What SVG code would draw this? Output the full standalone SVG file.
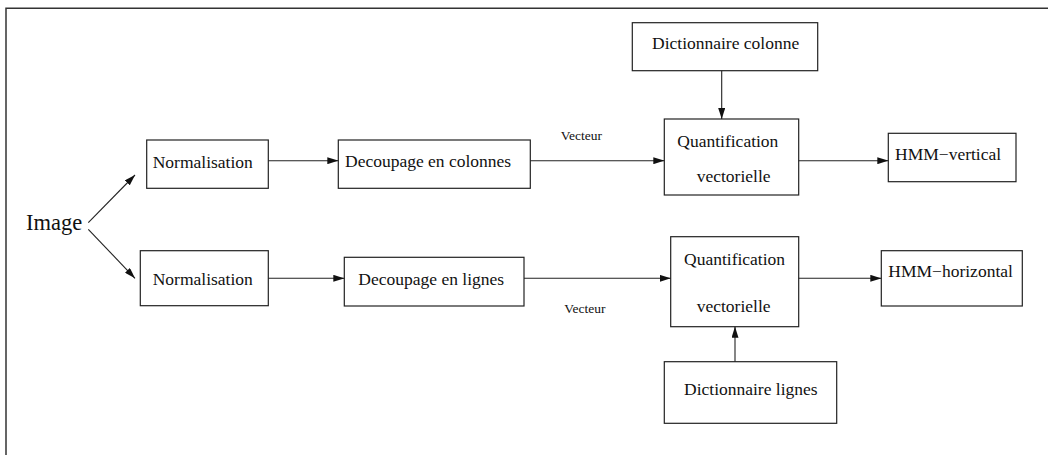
<svg xmlns="http://www.w3.org/2000/svg" width="1048" height="455" viewBox="0 0 1048 455">
  <style>
    .box { fill: #ffffff; stroke: #222222; stroke-width: 1.2; }
    .lbl { font-family: "Liberation Serif", "Times New Roman", serif; font-size: 17.5px; fill: #111111; }
    .small { font-family: "Liberation Serif", "Times New Roman", serif; font-size: 13.5px; fill: #111111; }
    .big { font-family: "Liberation Serif", "Times New Roman", serif; font-size: 22.5px; fill: #111111; }
    .edge { stroke: #222222; stroke-width: 1.1; fill: none; marker-end: url(#arrow); }
    .frame { stroke: #333333; stroke-width: 1.5; fill: none; }
  </style>
  <defs>
    <marker id="arrow" markerUnits="userSpaceOnUse" markerWidth="11" markerHeight="7" refX="11" refY="3.5" orient="auto">
      <path d="M0,0 L11,3.5 L0,7 z" fill="#111111"/>
    </marker>
  </defs>

  <rect width="1048" height="455" fill="#ffffff"/>
  <!-- page frame (top and left edges) -->
  <path class="frame" d="M6,455 L6,8.3 L1048,8.3"/>

  <g id="image">
    <text class="big" x="26" y="230">Image</text>
  </g>

  <g id="norm-top">
    <rect class="box" x="146.7" y="140" width="121.6" height="48.3"/>
    <text class="lbl" x="152.7" y="168">Normalisation</text>
  </g>
  <g id="norm-bottom">
    <rect class="box" x="140.3" y="250.7" width="128" height="55"/>
    <text class="lbl" x="152.7" y="285">Normalisation</text>
  </g>

  <g id="decoupage-colonnes">
    <rect class="box" x="338.3" y="140" width="192" height="48.3"/>
    <text class="lbl" x="345" y="166.7">Decoupage en colonnes</text>
  </g>
  <g id="decoupage-lignes">
    <rect class="box" x="344.3" y="257.3" width="179.7" height="48.7"/>
    <text class="lbl" x="358.3" y="285">Decoupage en lignes</text>
  </g>

  <g id="dict-colonne">
    <rect class="box" x="632.3" y="22.7" width="185.4" height="48"/>
    <text class="lbl" x="652" y="49.3">Dictionnaire colonne</text>
  </g>
  <g id="dict-lignes">
    <rect class="box" x="664.3" y="361.7" width="172.4" height="61.6"/>
    <text class="lbl" x="684" y="395">Dictionnaire lignes</text>
  </g>

  <g id="quant-top">
    <rect class="box" x="664.3" y="119" width="134.4" height="76"/>
    <text class="lbl" x="677.3" y="146.7">Quantification</text>
    <text class="lbl" x="696.7" y="181.7">vectorielle</text>
  </g>
  <g id="quant-bottom">
    <rect class="box" x="670.7" y="236.7" width="128" height="90"/>
    <text class="lbl" x="684" y="265">Quantification</text>
    <text class="lbl" x="696.7" y="311.7">vectorielle</text>
  </g>

  <g id="hmm-vertical">
    <rect class="box" x="888.3" y="133.3" width="127.7" height="48.4"/>
    <text class="lbl" x="895" y="160">HMM−vertical</text>
  </g>
  <g id="hmm-horizontal">
    <rect class="box" x="881.3" y="250.7" width="141" height="55.3"/>
    <text class="lbl" x="888.3" y="277.3">HMM−horizontal</text>
  </g>

  <g id="connectors">
    <line class="edge" x1="88.3" y1="222.7" x2="135" y2="175"/>
    <line class="edge" x1="88.3" y1="229.3" x2="135" y2="278.3"/>
    <line class="edge" x1="268.3" y1="160.7" x2="338.3" y2="160.7"/>
    <line class="edge" x1="268.3" y1="278.3" x2="344.3" y2="278.3"/>
    <line class="edge" x1="530.3" y1="160.7" x2="664.3" y2="160.7"/>
    <line class="edge" x1="524" y1="278.3" x2="670.7" y2="278.3"/>
    <line class="edge" x1="721.7" y1="70.7" x2="721.7" y2="119"/>
    <line class="edge" x1="735" y1="361.7" x2="735" y2="326.7"/>
    <line class="edge" x1="798.7" y1="160.7" x2="888.3" y2="160.7"/>
    <line class="edge" x1="798.7" y1="278.3" x2="881.3" y2="278.3"/>
    <text class="small" x="560.7" y="140">Vecteur</text>
    <text class="small" x="564.3" y="312.7">Vecteur</text>
  </g>
</svg>
